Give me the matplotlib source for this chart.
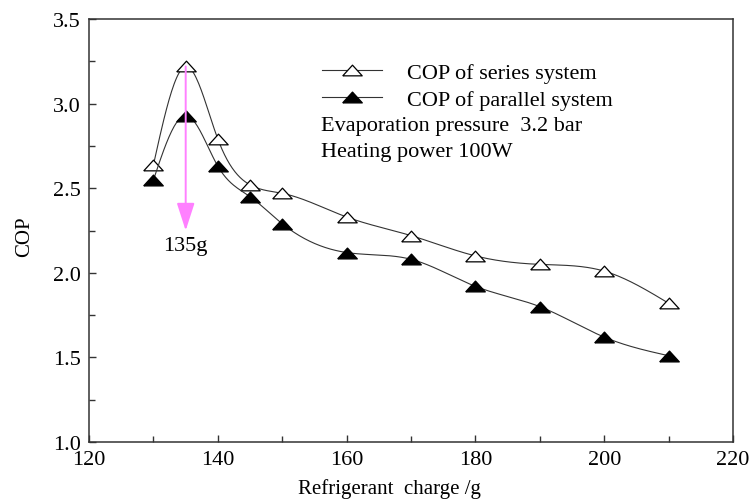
import matplotlib.pyplot as plt
import numpy as np

plt.rcParams['font.family'] = ['Liberation Serif', 'DejaVu Serif']

charge = [130, 135, 140, 145, 150, 160, 170, 180, 190, 200, 210]
cop_series = [2.64, 3.22, 2.79, 2.52, 2.47, 2.33, 2.22, 2.10, 2.05, 2.01, 1.82]
cop_parallel = [2.55, 2.93, 2.63, 2.45, 2.29, 2.12, 2.08, 1.92, 1.80, 1.62, 1.51]
peak_charge = 135


def spline(x, y, n=400):
    # natural cubic spline, only used to draw the smooth connecting line
    x = np.asarray(x, float)
    y = np.asarray(y, float)
    h = np.diff(x)
    m = len(x)
    A = np.zeros((m, m))
    b = np.zeros(m)
    A[0, 0] = A[-1, -1] = 1
    for i in range(1, m - 1):
        A[i, i - 1] = h[i - 1]
        A[i, i] = 2 * (h[i - 1] + h[i])
        A[i, i + 1] = h[i]
        b[i] = 6 * ((y[i + 1] - y[i]) / h[i] - (y[i] - y[i - 1]) / h[i - 1])
    M = np.linalg.solve(A, b)
    xs = np.linspace(x[0], x[-1], n)
    k = np.clip(np.searchsorted(x, xs) - 1, 0, m - 2)
    t0 = x[k + 1] - xs
    t1 = xs - x[k]
    hk = h[k]
    ys = (M[k] * t0 ** 3 + M[k + 1] * t1 ** 3) / (6 * hk) \
        + (y[k] / hk - M[k] * hk / 6) * t0 + (y[k + 1] / hk - M[k + 1] * hk / 6) * t1
    return xs, ys


# slightly flattened triangle, like the reference
tri = [(-1, -0.55), (1, -0.55), (0, 0.55), (-1, -0.55)]

fig = plt.figure(figsize=(7.55, 5.02), dpi=100)
ax = fig.add_axes([0.118, 0.1175, 0.853, 0.8425])

lc = '#333333'
xs, ys = spline(charge, cop_series)
ax.plot(xs, ys, color=lc, lw=0.8)
ax.plot(charge, cop_series, ls='none', marker=tri, ms=14, mfc='white', mec='black', mew=0.9)
xs, ys = spline(charge, cop_parallel)
ax.plot(xs, ys, color=lc, lw=0.8)
ax.plot(charge, cop_parallel, ls='none', marker=tri, ms=14, mfc='black', mec='black')

# legend handles
h1, = ax.plot([], [], color=lc, lw=0.8, marker=tri, ms=14, mfc='white', mec='black', mew=0.9)
h2, = ax.plot([], [], color=lc, lw=0.8, marker=tri, ms=14, mfc='black', mec='black')
ax.legend([h1, h2], ['COP of series system', 'COP of parallel system'],
          loc='upper left', bbox_to_anchor=(0.362, 0.898), frameon=False,
          fontsize=16, handlelength=2.7, handletextpad=1.1, labelspacing=0.28,
          borderaxespad=0, borderpad=0)
ax.text(0.36, 0.749, 'Evaporation pressure  3.2 bar', transform=ax.transAxes,
        fontsize=16, va='center')
ax.text(0.36, 0.688, 'Heating power 100W', transform=ax.transAxes,
        fontsize=16, va='center')

# arrow at the peak
ax.annotate('', xy=(peak_charge, 2.25), xytext=(peak_charge, 3.22),
            arrowprops=dict(arrowstyle='-|>,head_width=0.55,head_length=1.7',
                            color='#ff80ff', lw=1.4, shrinkA=0, shrinkB=0))
ax.text(peak_charge, 2.16, '135g', ha='center', va='center', fontsize=16)

ax.set_xlim(120, 220)
ax.set_ylim(1.0, 3.5)
ax.set_xticks([120, 140, 160, 180, 200, 220])
ax.set_xticks([130, 150, 170, 190, 210], minor=True)
ax.set_yticks([1.0, 1.5, 2.0, 2.5, 3.0, 3.5])
ax.set_yticks([1.25, 1.75, 2.25, 2.75, 3.25], minor=True)
ax.tick_params(which='both', direction='in', labelsize=16, width=1, color='#333333')
ax.tick_params(which='major', length=5)
ax.tick_params(which='minor', length=4)
ax.tick_params(axis='x', pad=6)
ax.tick_params(axis='y', pad=6)
for s in ax.spines.values():
    s.set_color('#333333')
    s.set_linewidth(1.1)
ax.set_xlabel('Refrigerant  charge /g', fontsize=15)
ax.set_ylabel('COP', fontsize=15)
ax.xaxis.set_label_coords(0.466, -0.085)
ax.yaxis.set_label_coords(-0.085, 0.489)

fig.savefig('out.png', dpi=100)
